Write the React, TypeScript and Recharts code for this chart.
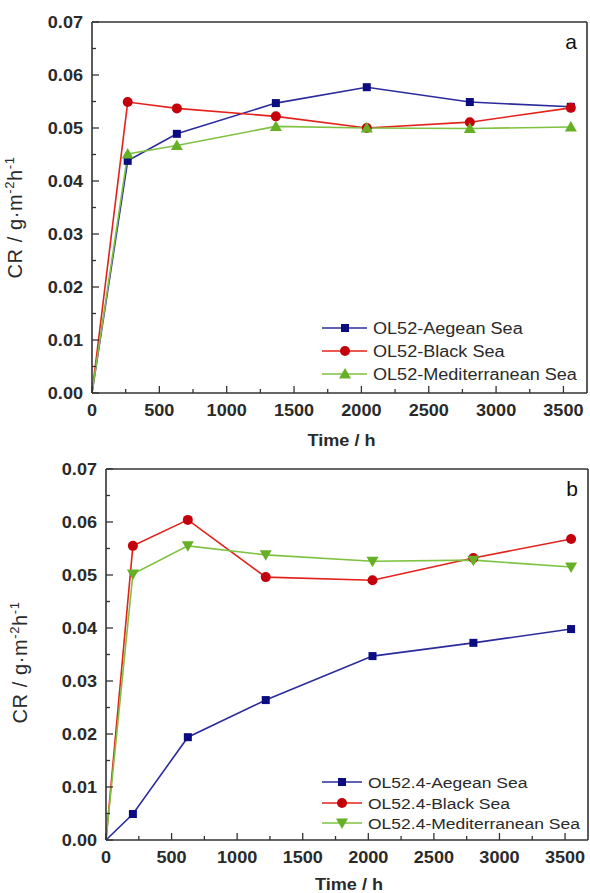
import React from "react";
import { LineChart, Line, XAxis, YAxis, ReferenceLine, Legend } from "recharts";

// panel a: OL52
const timeA = [0, 265, 630, 1365, 2040, 2805, 3555];
const aegeanA = [0, 0.0438, 0.0489, 0.0547, 0.0577, 0.0549, 0.054];
const blackA = [0, 0.0549, 0.0537, 0.0522, 0.05, 0.0511, 0.0538];
const medA = [0, 0.0451, 0.0467, 0.0503, 0.05, 0.0499, 0.0502];
const namesA = ["OL52-Aegean Sea", "OL52-Black Sea", "OL52-Mediterranean Sea"];

// panel b: OL52.4
const timeB = [0, 205, 624, 1218, 2032, 2801, 3546];
const aegeanB = [0, 0.0049, 0.0194, 0.0264, 0.0347, 0.0372, 0.0398];
const blackB = [0, 0.0555, 0.0604, 0.0496, 0.049, 0.0532, 0.0568];
const medB = [0, 0.0502, 0.0555, 0.0538, 0.0526, 0.0528, 0.0515];
const namesB = ["OL52.4-Aegean Sea", "OL52.4-Black Sea", "OL52.4-Mediterranean Sea"];

const yTicks = [0, 0.005, 0.01, 0.015, 0.02, 0.025, 0.03, 0.035, 0.04, 0.045, 0.05, 0.055, 0.06, 0.065, 0.07];
const xTicks = [0, 250, 500, 750, 1000, 1250, 1500, 1750, 2000, 2250, 2500, 2750, 3000, 3250, 3500];

const FONT = '"Liberation Sans", Arial, sans-serif';
const AXIS = "#333";
const X_MAX = 3675;
const STRETCH = 1.13; // the source figure is a bit wider than Arial

const lineColors = ["#2b2b9c", "#e3221b", "#7fc241"];
const markColors = ["#0b0b82", "#c4000c", "#66b028"];

const makeRows = (t: number[], a: number[], b: number[], m: number[]) =>
  t.map((v, i) => ({ t: v, aegean: a[i], black: b[i], med: m[i] }));

function Marker({ shape, cx, cy, color }: { shape: string; cx: number; cy: number; color: string }) {
  if (shape === "square") return <rect x={cx - 4} y={cy - 4} width={8} height={8} fill={color} />;
  if (shape === "circle") return <circle cx={cx} cy={cy} r={5} fill={color} />;
  if (shape === "up")
    return <polygon points={`${cx},${cy - 6} ${cx - 6},${cy + 4.5} ${cx + 6},${cy + 4.5}`} fill={color} />;
  return <polygon points={`${cx},${cy + 6} ${cx - 6},${cy - 4.5} ${cx + 6},${cy - 4.5}`} fill={color} />;
}

const dotFor = (shape: string, color: string) => (p: any) =>
  p.index === 0 ? <g key={`d${p.index}`} /> : <g key={`d${p.index}`}><Marker shape={shape} cx={p.cx} cy={p.cy} color={color} /></g>;

function YTick(props: any) {
  const { x, y, payload } = props;
  const v = payload.value;
  const major = Math.round(v * 1000) % 10 === 0;
  const ax = x + 9;
  return (
    <g>
      <line x1={ax} x2={ax + (major ? 7 : 4)} y1={y} y2={y} stroke={AXIS} strokeWidth={1.3} />
      {major && (
        <text transform={`translate(${x},${y + 6}) scale(${STRETCH},1)`} textAnchor="end" fontFamily={FONT}
          fontSize={16} fontWeight="bold" fill="#2a2a2a">
          {v.toFixed(2)}
        </text>
      )}
    </g>
  );
}

function XTick(props: any) {
  const { x, y, payload } = props;
  const v = payload.value;
  const major = v % 500 === 0;
  const ay = y - 9;
  return (
    <g>
      <line x1={x} x2={x} y1={ay} y2={ay - (major ? 7 : 4)} stroke={AXIS} strokeWidth={1.3} />
      {major && (
        <text transform={`translate(${x},${y + 14}) scale(${STRETCH},1)`} textAnchor="middle" fontFamily={FONT}
          fontSize={16} fontWeight="bold" fill="#2a2a2a">
          {v}
        </text>
      )}
    </g>
  );
}

const shapesA = ["square", "circle", "up"];
const shapesB = ["square", "circle", "down"];

function Panel({
  rows, names, shapes, letter, yAxisW, xAxisH, titleY, height, marginRight, yLabelX, yLabelShift,
  legendPos, legendRows, legendLine, legendFont,
}: any) {
  const keys = ["aegean", "black", "med"];
  const renderLegend = () => (
    <svg width={280} height={70} style={{ overflow: "visible" }}>
      {names.map((n: string, i: number) => (
        <g key={n}>
          <line x1={legendLine[0]} x2={legendLine[2]} y1={legendRows[i]} y2={legendRows[i]} stroke={lineColors[i]} strokeWidth={1.6} />
          <Marker shape={shapes[i]} cx={legendLine[1]} cy={legendRows[i]} color={markColors[i]} />
          <text transform={`translate(${legendLine[2] + 6},${legendRows[i] + 6}) scale(${STRETCH},1)`} fontFamily={FONT}
            fontSize={legendFont} fill="#2a2a2a">
            {n}
          </text>
        </g>
      ))}
    </svg>
  );
  return (
    <LineChart width={590} height={height} data={rows} margin={{ top: 22, right: marginRight, left: 0, bottom: 0 }}>
      <XAxis dataKey="t" type="number" domain={[0, X_MAX]} ticks={xTicks} interval={0} height={xAxisH}
        tickSize={0} tickMargin={9} tickLine={false} tick={<XTick />} axisLine={{ stroke: AXIS, strokeWidth: 1.6 }}
        label={{
          content: (p: any) => (
            <text transform={`translate(${p.viewBox.x + p.viewBox.width / 2 + 2},${p.viewBox.y + titleY}) scale(${STRETCH},1)`}
              textAnchor="middle" fontFamily={FONT} fontSize={16} fontWeight="bold" fill="#2a2a2a">
              Time / h
            </text>
          ),
        }} />
      <YAxis type="number" domain={[0, 0.07]} ticks={yTicks} interval={0} width={yAxisW}
        tickSize={0} tickMargin={9} tickLine={false} tick={<YTick />} axisLine={{ stroke: AXIS, strokeWidth: 1.6 }}
        label={{
          content: (p: any) => (
            <text transform={`translate(${yLabelX},${p.viewBox.y + p.viewBox.height / 2 + yLabelShift}) rotate(-90)`}
              textAnchor="middle" fontFamily={FONT} fontSize={20} letterSpacing={0.6} fill="#2a2a2a">
              CR / g·m<tspan dy={-8} fontSize={13}>-2</tspan><tspan dy={8}>h</tspan><tspan dy={-8} fontSize={13}>-1</tspan>
            </text>
          ),
        }} />
      <ReferenceLine y={0.07} stroke={AXIS} strokeWidth={1.6}
        label={{
          content: (p: any) => (
            <text x={p.viewBox.x + p.viewBox.width - 10} y={p.viewBox.y + 27} textAnchor="end" fontFamily={FONT}
              fontSize={21} fill="#111">
              {letter}
            </text>
          ),
        }} />
      <ReferenceLine x={X_MAX} stroke={AXIS} strokeWidth={1.6} />
      {keys.map((k, i) => (
        <Line key={k} dataKey={k} name={names[i]} stroke={lineColors[i]} strokeWidth={1.6}
          dot={dotFor(shapes[i], markColors[i])} activeDot={false} isAnimationActive={false} />
      ))}
      <Legend layout="vertical" verticalAlign="middle" align="center" content={renderLegend}
        wrapperStyle={{ left: legendPos[0], top: legendPos[1], width: 280, height: 70 }} />
    </LineChart>
  );
}

export default function App() {
  const rowsA = makeRows(timeA, aegeanA, blackA, medA);
  const rowsB = makeRows(timeB, aegeanB, blackB, medB);
  return (
    <div style={{ position: "absolute", left: 0, top: 0, width: 590, height: 893, background: "#fff" }}>
      <div style={{ position: "absolute", left: 0, top: 0 }}>
        <Panel rows={rowsA} names={namesA} shapes={shapesA} letter="a" yAxisW={92} xAxisH={62} titleY={53} height={455}
          marginRight={3} yLabelX={22} yLabelShift={10} legendPos={[315, 312]} legendRows={[16, 39, 62]}
          legendLine={[7, 30, 52]} legendFont={16} />
      </div>
      <div style={{ position: "absolute", left: 0, top: 447 }}>
        <Panel rows={rowsB} names={namesB} shapes={shapesB} letter="b" yAxisW={106} xAxisH={53} titleY={50} height={446}
          marginRight={2} yLabelX={27} yLabelShift={8} legendPos={[315, 320]} legendRows={[15, 36, 56]}
          legendLine={[7, 27, 47]} legendFont={15.5} />
      </div>
    </div>
  );
}
